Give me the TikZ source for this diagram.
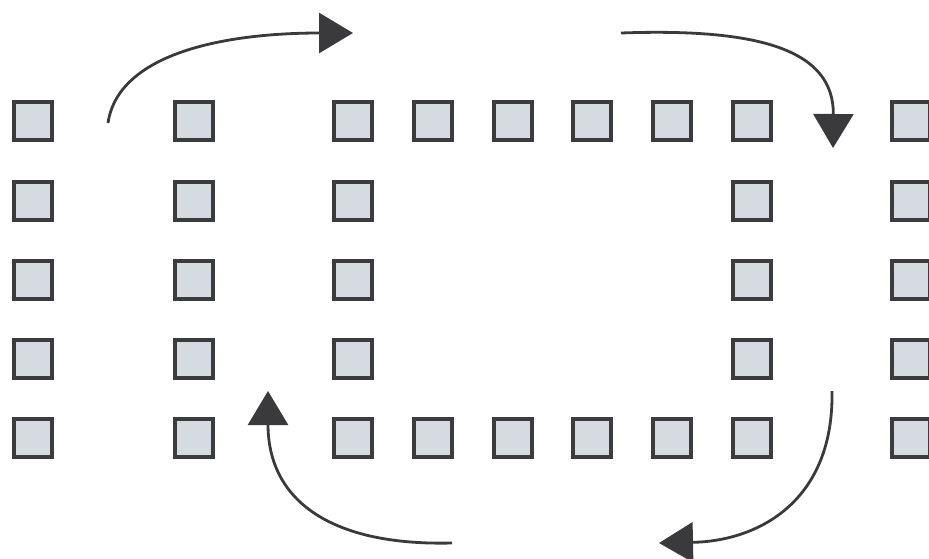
\documentclass[tikz,border=0pt]{standalone}
\usetikzlibrary{arrows.meta}
\definecolor{sqfill}{HTML}{D6DAE1}
\definecolor{sqdraw}{HTML}{3C3C3E}
\definecolor{arr}{HTML}{3A3A3C}
\begin{document}
\begin{tikzpicture}[x=1pt,y=-1pt,
  cell/.style={draw=sqdraw,fill=sqfill,line width=4.5pt,minimum size=38pt,inner sep=0pt,rectangle},
  flow/.style={draw=arr,line width=2.8pt,-{Triangle[length=34pt,width=40pt]}}]
\useasboundingbox (0,0) rectangle (929,558);
% columns and rows
\foreach \c/\x in {a/33,b/194,c/353,d/433,e/513,f/592,g/672,h/752,i/911}{
  \foreach \r/\y in {1/121,2/201,3/280,4/359,5/438}{
    \coordinate (p\c\r) at (\x,\y);
  }
}
% outer columns
\foreach \c in {a,b,i}{
  \foreach \r in {1,2,3,4,5}{ \node[cell] (s\c\r) at (p\c\r) {}; }
}
% inner ring
\foreach \c in {c,d,e,f,g,h}{
  \node[cell] (s\c1) at (p\c1) {};
  \node[cell] (s\c5) at (p\c5) {};
}
\foreach \r in {2,3,4}{
  \node[cell] (sc\r) at (pc\r) {};
  \node[cell] (sh\r) at (ph\r) {};
}
% arrow endpoints
\coordinate (a1s) at (108,123);
\coordinate (a1e) at (353,33);
\coordinate (a2s) at (621,33);
\coordinate (a2e) at (833,148);
\coordinate (a3s) at (832,391);
\coordinate (a3e) at (659,543);
\coordinate (a4s) at (452,543);
\coordinate (a4e) at (268,391);
\draw[flow] (a1s) .. controls (118,55) and (220,33) .. (a1e);
\draw[flow] (a2s) .. controls (760,28) and (834,50) .. (a2e);
\draw[flow] (a3s) .. controls (834,500) and (760,541) .. (a3e);
\draw[flow] (a4s) .. controls (330,546) and (268,500) .. (a4e);
\end{tikzpicture}
\end{document}
